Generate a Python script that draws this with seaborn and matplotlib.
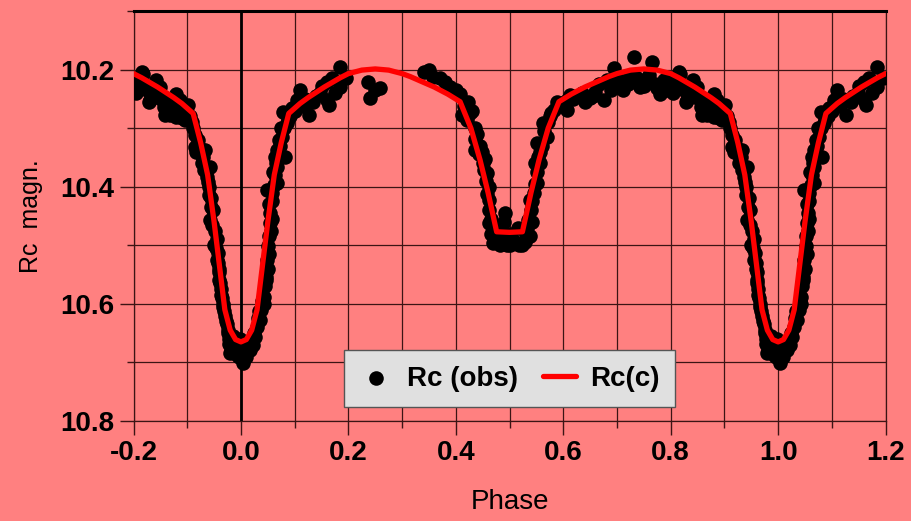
import matplotlib
matplotlib.use('Agg')
import matplotlib.pyplot as plt
from matplotlib.ticker import MultipleLocator
import pandas as pd
import seaborn as sns

# model light curve Rc(c), phase -0.2 .. 1.2
model_phase = [-0.200, -0.185, -0.170, -0.155, -0.140, -0.125, -0.110, -0.089, -0.075, -0.062,
               -0.050, -0.040, -0.030, -0.020, -0.010, 0.000, 0.010, 0.020, 0.030, 0.040,
               0.050, 0.062, 0.075, 0.089, 0.110, 0.125, 0.140, 0.155, 0.170, 0.185,
               0.200, 0.225, 0.250, 0.275, 0.300, 0.315, 0.330, 0.345, 0.360, 0.385,
               0.408, 0.428, 0.445, 0.460, 0.476, 0.500, 0.524, 0.540, 0.555, 0.572,
               0.592, 0.615, 0.640, 0.655, 0.670, 0.685, 0.700, 0.725, 0.750, 0.775,
               0.800, 0.815, 0.830, 0.845, 0.860, 0.875, 0.890, 0.911, 0.925, 0.938,
               0.950, 0.960, 0.970, 0.980, 0.990, 1.000, 1.010, 1.020, 1.030, 1.040,
               1.050, 1.062, 1.075, 1.089, 1.110, 1.125, 1.140, 1.155, 1.170, 1.185,
               1.200]
model_mag = [10.207, 10.214, 10.222, 10.230, 10.239, 10.248, 10.258, 10.275, 10.325, 10.380,
             10.460, 10.535, 10.610, 10.645, 10.661, 10.665, 10.661, 10.645, 10.610, 10.535,
             10.460, 10.380, 10.325, 10.275, 10.258, 10.248, 10.239, 10.230, 10.222, 10.214,
             10.207, 10.201, 10.199, 10.201, 10.207, 10.212, 10.218, 10.224, 10.230, 10.242,
             10.255, 10.300, 10.354, 10.410, 10.477, 10.478, 10.477, 10.410, 10.354, 10.300,
             10.255, 10.242, 10.230, 10.224, 10.218, 10.212, 10.207, 10.201, 10.199, 10.201,
             10.207, 10.214, 10.222, 10.230, 10.239, 10.248, 10.258, 10.275, 10.325, 10.380,
             10.460, 10.535, 10.610, 10.645, 10.661, 10.665, 10.661, 10.645, 10.610, 10.535,
             10.460, 10.380, 10.325, 10.275, 10.258, 10.248, 10.239, 10.230, 10.222, 10.214,
             10.207]

# observed Rc, one cycle (phase 0 .. 1)
obs_phase = [
    # primary egress
    0.001, 0.004, 0.008, 0.012, 0.017, 0.020, 0.024, 0.026, 0.029, 0.032, 0.036, 0.038,
    0.040, 0.042, 0.044, 0.046, 0.048, 0.049, 0.051, 0.052, 0.054, 0.055, 0.053, 0.048,
    0.058, 0.067, 0.060, 0.067, 0.063, 0.067, 0.082, 0.070, 0.075, 0.079, 0.085, 0.092,
    0.003, 0.010, 0.015, 0.022, 0.034, 0.043, 0.047, 0.050, 0.053, 0.056, 0.058, 0.057,
    0.062, 0.064, 0.065, 0.070, 0.072, 0.077, 0.080, 0.088, 0.095,
    # first maximum
    0.104, 0.110, 0.115, 0.126, 0.135, 0.148, 0.160, 0.160, 0.163, 0.175, 0.185, 0.185,
    0.195, 0.237, 0.240, 0.250, 0.259, 0.340, 0.350, 0.358, 0.370, 0.380, 0.390, 0.400,
    0.408, 0.423, 0.430, 0.411, 0.421, 0.436,
    0.100, 0.120, 0.140, 0.150, 0.170, 0.415, 0.426,
    # secondary minimum
    0.436, 0.436, 0.445, 0.450, 0.455, 0.458, 0.461, 0.461, 0.462, 0.461, 0.466, 0.470,
    0.478, 0.485, 0.490, 0.492, 0.495, 0.500, 0.505, 0.510, 0.515, 0.523, 0.530, 0.538,
    0.535, 0.540, 0.538, 0.545, 0.551, 0.548, 0.551, 0.557, 0.551, 0.557, 0.569, 0.563,
    0.575, 0.582, 0.588, 0.607, 0.607, 0.613, 0.625,
    0.440, 0.443, 0.448, 0.452, 0.456, 0.458, 0.465, 0.468, 0.475, 0.482, 0.488, 0.500,
    0.517, 0.528, 0.533, 0.542, 0.542, 0.547, 0.553, 0.560, 0.565, 0.572, 0.578, 0.595,
    0.600, 0.618, 0.635, 0.640,
    # second maximum
    0.650, 0.656, 0.666, 0.675, 0.681, 0.694, 0.706, 0.720, 0.731, 0.743, 0.755, 0.765,
    0.770, 0.780, 0.787, 0.800, 0.809, 0.815, 0.818, 0.825, 0.828, 0.830, 0.842, 0.849,
    0.856, 0.858, 0.861, 0.867, 0.875, 0.880, 0.880, 0.886, 0.895, 0.896, 0.901, 0.905,
    0.660, 0.688, 0.700, 0.712, 0.725, 0.738, 0.750, 0.760, 0.775, 0.792, 0.805, 0.812,
    0.835, 0.845, 0.852, 0.864, 0.870, 0.872, 0.884, 0.890, 0.893, 0.908,
    # primary ingress
    0.914, 0.914, 0.920, 0.930, 0.933, 0.936, 0.936, 0.942, 0.940, 0.945, 0.943, 0.948,
    0.951, 0.955, 0.957, 0.958, 0.960, 0.960, 0.962, 0.965, 0.967, 0.970, 0.974, 0.976,
    0.978, 0.979, 0.985, 0.986, 0.990, 0.995, 0.996, 0.998,
    0.911, 0.917, 0.922, 0.926, 0.928, 0.932, 0.938, 0.941, 0.944, 0.947, 0.950, 0.953,
    0.956, 0.959, 0.961, 0.963, 0.966, 0.969, 0.972, 0.975, 0.977, 0.982, 0.988, 0.992,
    0.997,
]
obs_mag = [
    10.672, 10.701, 10.680, 10.668, 10.678, 10.660, 10.650, 10.656, 10.640, 10.625, 10.627, 10.610,
    10.595, 10.588, 10.570, 10.555, 10.542, 10.525, 10.502, 10.485, 10.462, 10.445, 10.430, 10.406,
    10.410, 10.394, 10.375, 10.366, 10.350, 10.337, 10.349, 10.320, 10.300, 10.272, 10.292, 10.280,
    10.685, 10.690, 10.665, 10.670, 10.612, 10.600, 10.560, 10.540, 10.515, 10.475, 10.455, 10.425,
    10.398, 10.380, 10.360, 10.345, 10.330, 10.315, 10.300, 10.285, 10.265,
    10.252, 10.235, 10.262, 10.278, 10.255, 10.240, 10.221, 10.252, 10.261, 10.240, 10.195, 10.229,
    10.215, 10.221, 10.249, 10.235, 10.232, 10.204, 10.200, 10.212, 10.215, 10.221, 10.230, 10.235,
    10.241, 10.255, 10.270, 10.278, 10.286, 10.300,
    10.270, 10.250, 10.245, 10.228, 10.215, 10.262, 10.275,
    10.318, 10.337, 10.330, 10.360, 10.352, 10.377, 10.400, 10.423, 10.440, 10.462, 10.480, 10.497,
    10.490, 10.470, 10.460, 10.445, 10.499, 10.480, 10.490, 10.495, 10.470, 10.499, 10.480, 10.485,
    10.457, 10.440, 10.423, 10.410, 10.394, 10.360, 10.375, 10.360, 10.326, 10.340, 10.315, 10.292,
    10.280, 10.269, 10.255, 10.252, 10.269, 10.244, 10.246,
    10.310, 10.345, 10.340, 10.372, 10.390, 10.412, 10.455, 10.468, 10.495, 10.500, 10.492, 10.500,
    10.500, 10.495, 10.470, 10.460, 10.425, 10.395, 10.350, 10.330, 10.305, 10.290, 10.275, 10.258,
    10.262, 10.250, 10.240, 10.255,
    10.249, 10.246, 10.224, 10.252, 10.218, 10.198, 10.229, 10.225, 10.178, 10.229, 10.220, 10.187,
    10.225, 10.241, 10.218, 10.225, 10.215, 10.204, 10.207, 10.235, 10.255, 10.252, 10.218, 10.229,
    10.264, 10.278, 10.258, 10.278, 10.260, 10.241, 10.281, 10.252, 10.270, 10.286, 10.261, 10.280,
    10.238, 10.235, 10.215, 10.235, 10.210, 10.215, 10.228, 10.210, 10.232, 10.235, 10.240, 10.225,
    10.230, 10.245, 10.250, 10.268, 10.258, 10.275, 10.268, 10.282, 10.262, 10.290,
    10.312, 10.332, 10.320, 10.350, 10.337, 10.366, 10.383, 10.366, 10.400, 10.420, 10.457, 10.440,
    10.475, 10.490, 10.513, 10.530, 10.545, 10.559, 10.575, 10.590, 10.605, 10.620, 10.635, 10.644,
    10.660, 10.684, 10.670, 10.655, 10.675, 10.680, 10.690, 10.660,
    10.300, 10.340, 10.332, 10.345, 10.360, 10.372, 10.392, 10.415, 10.435, 10.465, 10.500, 10.505,
    10.525, 10.540, 10.565, 10.585, 10.600, 10.612, 10.630, 10.650, 10.668, 10.680, 10.665, 10.688,
    10.675,
]

x_ticks = [-0.2, 0.0, 0.2, 0.4, 0.6, 0.8, 1.0, 1.2]
x_tick_labels = ['-0.2', '0.0', '0.2', '0.4', '0.6', '0.8', '1.0', '1.2']
y_ticks = [10.2, 10.4, 10.6, 10.8]
y_tick_labels = ['10.2', '10.4', '10.6', '10.8']

BG = '#FF8080'
GRID = '#3c1414'

sns.set_style('ticks')
plt.rcParams['font.family'] = ['Liberation Sans', 'DejaVu Sans']
plt.rcParams['axes.unicode_minus'] = False
plt.rcParams['text.color'] = 'black'
plt.rcParams['axes.labelcolor'] = 'black'
plt.rcParams['xtick.color'] = 'black'
plt.rcParams['ytick.color'] = 'black'

obs = pd.DataFrame({'phase': obs_phase, 'mag': obs_mag})
# phase-folded: repeat the ends of the cycle so the plot runs from -0.2 to 1.2
obs = pd.concat([
    obs,
    obs[obs['phase'] >= 0.8].assign(phase=lambda d: d['phase'] - 1.0),
    obs[obs['phase'] < 0.2].assign(phase=lambda d: d['phase'] + 1.0),
], ignore_index=True)
model = pd.DataFrame({'phase': model_phase, 'mag': model_mag})

fig = plt.figure(figsize=(9.12, 5.21), dpi=100, facecolor=BG)
ax = fig.add_axes([0.1464, 0.192, 0.8246, 0.787])
ax.set_facecolor(BG)

ax.axvline(0.0, color='black', lw=2, zorder=2)
sns.scatterplot(data=obs, x='phase', y='mag', ax=ax, color='black', s=110,
                linewidth=0, label='Rc (obs)', zorder=3)
sns.lineplot(data=model, x='phase', y='mag', ax=ax, color='#FF0000', lw=3.8,
             sort=False, estimator=None, label='Rc(c)', zorder=4)

ax.set_xlim(-0.2, 1.2)
ax.set_ylim(10.8, 10.1)
ax.set_xticks(x_ticks, x_tick_labels, fontweight='bold', fontsize=20)
ax.set_yticks(y_ticks, y_tick_labels, fontweight='bold', fontsize=20)
ax.xaxis.set_minor_locator(MultipleLocator(0.1))
ax.yaxis.set_minor_locator(MultipleLocator(0.1))
ax.tick_params(which='major', direction='out', length=10, width=1, color=GRID,
               labelcolor='black', pad=4)
ax.tick_params(which='minor', direction='out', length=5, width=1, color=GRID)

ax.set_axisbelow(True)
ax.grid(which='both', color=GRID, lw=0.9)
for side in ['left', 'right', 'bottom']:
    ax.spines[side].set_color(GRID)
    ax.spines[side].set_linewidth(0.9)
ax.spines['top'].set_color('black')
ax.spines['top'].set_linewidth(2.2)

ax.set_xlabel('Phase', fontsize=20, labelpad=16, color='black')
ax.set_ylabel('Rc  magn.', fontsize=18, labelpad=12, color='black')

leg = ax.legend(loc='lower center', bbox_to_anchor=(0.5, 0.034), ncol=2, frameon=True,
                facecolor='#E0E0E0', edgecolor='#555555', framealpha=1, fancybox=False,
                prop={'weight': 'bold', 'size': 20}, handlelength=1.2, handletextpad=0.5,
                columnspacing=0.9, borderaxespad=0, borderpad=0.55)
for t in leg.get_texts():
    t.set_color('black')

fig.savefig('out.png', dpi=100, facecolor=BG)
